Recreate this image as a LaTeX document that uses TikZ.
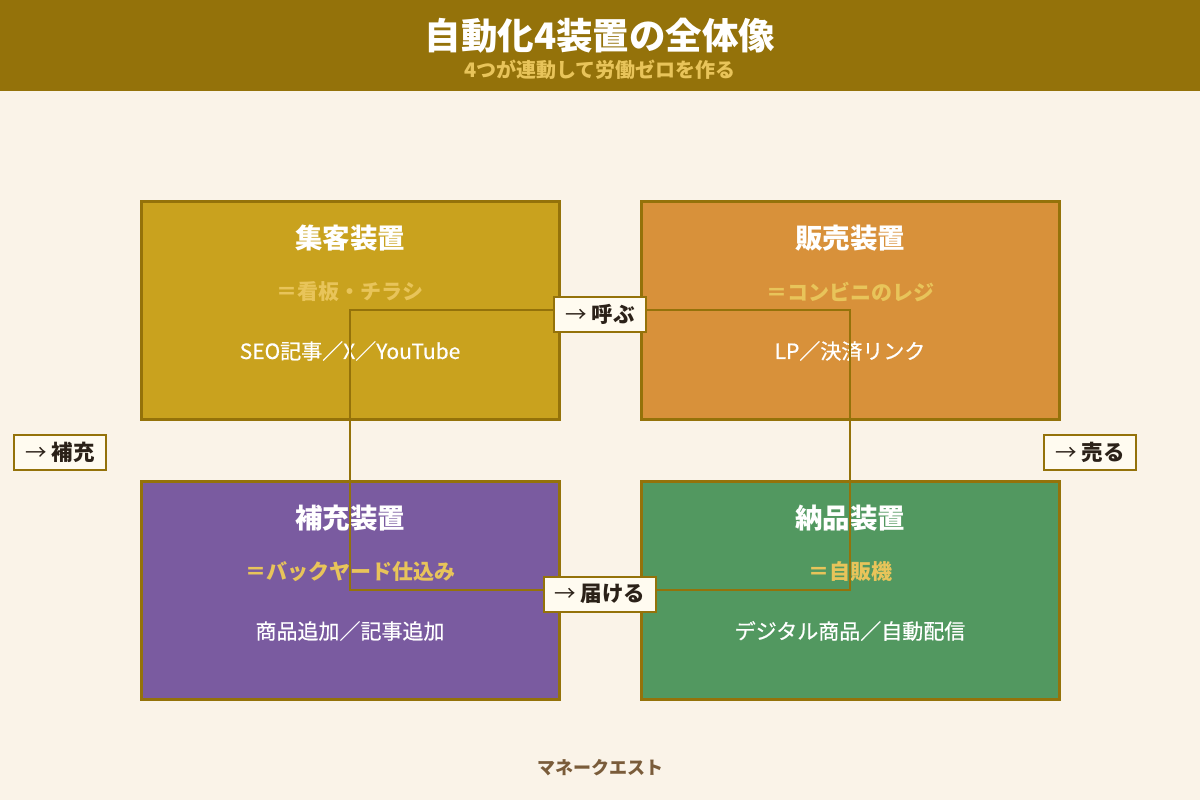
\documentclass[tikz,border=0pt]{standalone}
\usepackage{fontspec}
\setmainfont{Noto Sans CJK JP}
\newfontfamily\bodyfont[FakeBold=0.6]{Noto Sans CJK JP}
\usetikzlibrary{calc}
\definecolor{hdr}{HTML}{94720A}
\definecolor{paper}{HTML}{FAF3E8}
\definecolor{gold}{HTML}{E8C45A}
\definecolor{ink}{HTML}{2B2118}
\definecolor{foot}{HTML}{7A5C3A}
\definecolor{tagbg}{HTML}{FFFBF0}
\definecolor{cyel}{HTML}{C9A21E}
\definecolor{corg}{HTML}{D8913A}
\definecolor{cpur}{HTML}{7A5BA0}
\definecolor{cgrn}{HTML}{529860}
\tikzset{
  unit/.style={draw=hdr, line width=3pt, minimum width=418pt, minimum height=218pt},
  tag/.style={draw=hdr, line width=2pt, fill=tagbg, text=ink, font=\fontsize{21.5}{24}\selectfont,
    minimum height=35pt, inner xsep=11pt},
}

\begin{document}
\begin{tikzpicture}[x=1pt, y=-1pt]
\useasboundingbox (0,0) rectangle (1200,800);
\fill[paper] (0,0) rectangle (1200,800);
\fill[hdr] (0,0) rectangle (1200,91);
\node[text=white, font=\fontsize{36.5}{40}\selectfont\bfseries] (title) at (600,36) {自動化4装置の全体像};
\node[text=gold, font=\fontsize{20}{24}\selectfont\bfseries] (subtitle) at (600,70) {4つが連動して労働ゼロを作る};

% four units
\node[unit, fill=cyel] (tl) at (350,310) {};
\node[unit, fill=corg] (tr) at (850,310) {};
\node[unit, fill=cpur] (bl) at (350,590) {};
\node[unit, fill=cgrn] (br) at (850,590) {};

\foreach \u/\name/\alias/\body in {tl/集客装置/＝看板・チラシ/SEO記事／X／YouTube,
    tr/販売装置/＝コンビニのレジ/LP／決済リンク,
    bl/補充装置/＝バックヤード仕込み/商品追加／記事追加,
    br/納品装置/＝自販機/デジタル商品／自動配信}{
  \node[text=white, font=\fontsize{27.5}{30}\selectfont\bfseries] (\u-name) at ([yshift=72pt]\u.center) {\name};
  \node[text=gold, font=\fontsize{21}{24}\selectfont\bfseries] (\u-alias) at ([yshift=18pt]\u.center) {\alias};
  \node[text=white, font=\fontsize{21}{24}\selectfont\bodyfont] (\u-body) at ([yshift=-41pt]\u.center) {\body};
}

% the loop
\draw[hdr, line width=2pt] (tl.center) -- (tr.center) -- (br.center) -- (bl.center) -- cycle;

\node[tag] (call) at ($(tl.center)!.5!(tr.center)+(0,4)$) {→ {\bfseries 呼ぶ}};
\node[tag] (deliver) at ($(bl.center)!.5!(br.center)+(0,4)$) {→ {\bfseries 届ける}};
\node[tag] (refill) at (60,452) {→ {\bfseries 補充}};
\node[tag] (sell) at (1090,452) {→ {\bfseries 売る}};

\node[text=foot, font=\fontsize{18}{22}\selectfont\bfseries] (brand) at (600,768) {マネークエスト};
\end{tikzpicture}
\end{document}
